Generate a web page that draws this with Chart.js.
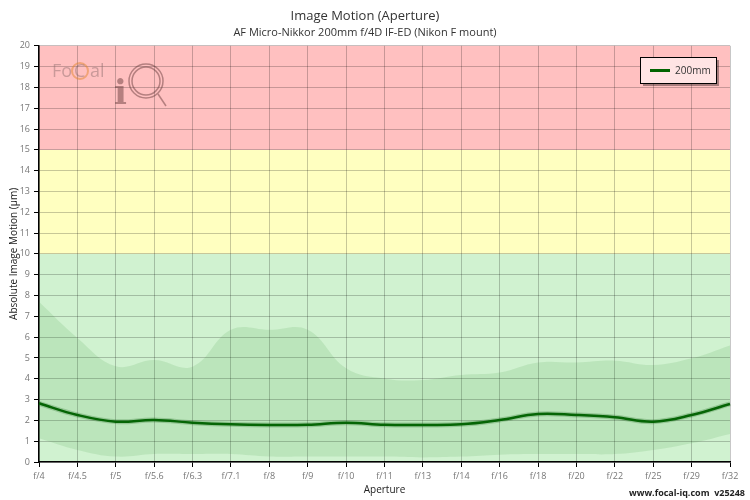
<!DOCTYPE html>
<html>
<head>
<meta charset="utf-8">
<script src="https://cdn.jsdelivr.net/npm/chart.js@4/dist/chart.umd.min.js"></script>
<style>
  html, body { margin: 0; padding: 0; background: #fff; }
  #wrap { width: 750px; height: 500px; position: relative; }
</style>
</head>
<body>
<div id="wrap"><canvas id="motion-chart" width="750" height="500"></canvas></div>
<script>
const apertures = ['f/4', 'f/4.5', 'f/5', 'f/5.6', 'f/6.3', 'f/7.1', 'f/8', 'f/9', 'f/10', 'f/11',
  'f/13', 'f/14', 'f/16', 'f/18', 'f/20', 'f/22', 'f/25', 'f/29', 'f/32'];
const motion200 = [2.82, 2.26, 1.94, 2.02, 1.89, 1.81, 1.78, 1.79, 1.89, 1.79,
  1.78, 1.81, 2.02, 2.31, 2.26, 2.15, 1.94, 2.26, 2.79];
const rangeMax = [7.7, 5.96, 4.6, 4.9, 4.58, 6.35, 6.35, 6.35, 4.5, 4.0,
  3.94, 4.18, 4.3, 4.78, 4.78, 4.87, 4.66, 4.98, 5.6];
const rangeMin = [1.14, 0.58, 0.26, 0.38, 0.38, 0.38, 0.26, 0.26, 0.26, 0.26,
  0.22, 0.26, 0.35, 0.38, 0.38, 0.38, 0.58, 0.9, 1.35];
const zones = [
  { from: 0, to: 10, color: '#d0f2d0' },
  { from: 10, to: 15, color: '#ffffc0' },
  { from: 15, to: 20, color: '#ffc0c0' }
];

const FONT = "'Open Sans', 'DejaVu Sans', sans-serif";

// coloured zones behind the grid
const zonePlugin = {
  id: 'zones',
  beforeDraw(chart) {
    const { ctx, chartArea: a, scales: { y } } = chart;
    ctx.save();
    zones.forEach(z => {
      const top = y.getPixelForValue(z.to);
      const bottom = y.getPixelForValue(z.from);
      ctx.fillStyle = z.color;
      ctx.fillRect(a.left, top, a.right - a.left, bottom - top);
    });
    ctx.restore();
  }
};

// legend box, watermark and footer
const extrasPlugin = {
  id: 'extras',
  afterDraw(chart) {
    const ctx = chart.ctx;
    ctx.save();

    // watermark
    ctx.globalAlpha = 0.45;
    ctx.fillStyle = '#8a6a6a';
    ctx.font = "18px " + FONT;
    ctx.textBaseline = 'alphabetic';
    ctx.fillText('Fo', 52, 77);
    ctx.fillText('al', 90, 77);
    ctx.strokeStyle = '#e08020';
    ctx.lineWidth = 2;
    ctx.beginPath();
    ctx.arc(80, 71, 8, 0, Math.PI * 2);
    ctx.stroke();
    ctx.fillStyle = '#8a6a6a';
    ctx.fillText('C', 74, 77);
    ctx.fillStyle = '#5a3030';
    ctx.font = "bold 34px 'DejaVu Serif', serif";
    ctx.fillText('i', 114, 104);
    ctx.strokeStyle = '#5a3030';
    ctx.lineWidth = 1.5;
    ctx.beginPath();
    ctx.arc(146, 81, 17, 0, Math.PI * 2);
    ctx.stroke();
    ctx.beginPath();
    ctx.arc(146, 81, 14, 0, Math.PI * 2);
    ctx.stroke();
    ctx.beginPath();
    ctx.moveTo(158, 94);
    ctx.lineTo(166, 106);
    ctx.stroke();
    ctx.globalAlpha = 1;

    // legend
    const lx = 640, ly = 57, lw = 76, lh = 26;
    ctx.fillStyle = 'rgba(0,0,0,0.35)';
    ctx.fillRect(lx + 3, ly + 3, lw, lh);
    ctx.fillStyle = '#ffe4e4';
    ctx.fillRect(lx, ly, lw, lh);
    ctx.strokeStyle = '#000';
    ctx.lineWidth = 1;
    ctx.strokeRect(lx + 0.5, ly + 0.5, lw, lh);
    ctx.strokeStyle = '#006400';
    ctx.lineWidth = 3;
    ctx.beginPath();
    ctx.moveTo(650, 70.5);
    ctx.lineTo(670, 70.5);
    ctx.stroke();
    ctx.fillStyle = '#333';
    ctx.font = "10px " + FONT;
    ctx.textBaseline = 'middle';
    ctx.fillText('200mm', 675, 71);

    // footer
    ctx.fillStyle = '#222';
    ctx.font = "bold 9px " + FONT;
    ctx.textAlign = 'right';
    ctx.textBaseline = 'alphabetic';
    ctx.fillText('www.focal-iq.com  v25248', 745, 496);
    ctx.restore();
  }
};

new Chart(document.getElementById('motion-chart'), {
  type: 'line',
  data: {
    labels: apertures,
    datasets: [
      {
        label: 'max',
        data: rangeMax,
        borderWidth: 0,
        pointRadius: 0,
        tension: 0.4,
        fill: '+1',
        backgroundColor: 'rgba(40,140,40,0.12)'
      },
      {
        label: 'min',
        data: rangeMin,
        borderWidth: 0,
        pointRadius: 0,
        tension: 0.4,
        fill: false
      },
      {
        label: 'halo',
        data: motion200,
        borderColor: 'rgba(0,80,0,0.22)',
        borderWidth: 5,
        pointRadius: 0,
        tension: 0.4,
        fill: false
      },
      {
        label: '200mm',
        data: motion200,
        borderColor: '#006400',
        borderWidth: 2.5,
        pointRadius: 0,
        tension: 0.4,
        fill: false
      }
    ]
  },
  options: {
    responsive: false,
    animation: false,
    devicePixelRatio: 1,
    layout: { padding: { left: 0, right: 20, top: 0, bottom: 0 } },
    plugins: {
      legend: { display: false },
      tooltip: { enabled: false },
      title: {
        display: true,
        text: 'Image Motion (Aperture)',
        color: '#333',
        font: { family: FONT, size: 13, weight: 'normal' },
        padding: { top: 8, bottom: 2 }
      },
      subtitle: {
        display: true,
        text: 'AF Micro-Nikkor 200mm f/4D IF-ED (Nikon F mount)',
        color: '#333',
        font: { family: FONT, size: 11, weight: 'normal' },
        padding: { top: 1, bottom: 6 }
      }
    },
    scales: {
      x: {
        offset: false,
        afterFit: s => { s.height = 38; },
        grid: { color: 'rgba(0,0,0,0.22)', tickColor: '#000', tickLength: 5 },
        border: { color: '#000', width: 1.5 },
        ticks: { color: '#777', font: { family: FONT, size: 9 }, maxRotation: 0, autoSkip: false, padding: 4 },
        title: { display: true, text: 'Aperture', color: '#222', font: { family: FONT, size: 10 }, padding: { top: 2 } }
      },
      y: {
        min: 0,
        max: 20,
        afterFit: s => { s.width = 39; },
        grid: { color: 'rgba(0,0,0,0.22)', tickColor: '#000', tickLength: 5 },
        border: { color: '#000', width: 1.5 },
        ticks: { stepSize: 1, color: '#777', font: { family: FONT, size: 9 }, padding: 4 },
        title: { display: true, text: 'Absolute Image Motion (µm)', color: '#222', font: { family: FONT, size: 10 }, padding: { top: 8 } }
      }
    }
  },
  plugins: [zonePlugin, extrasPlugin]
});
</script>
</body>
</html>
